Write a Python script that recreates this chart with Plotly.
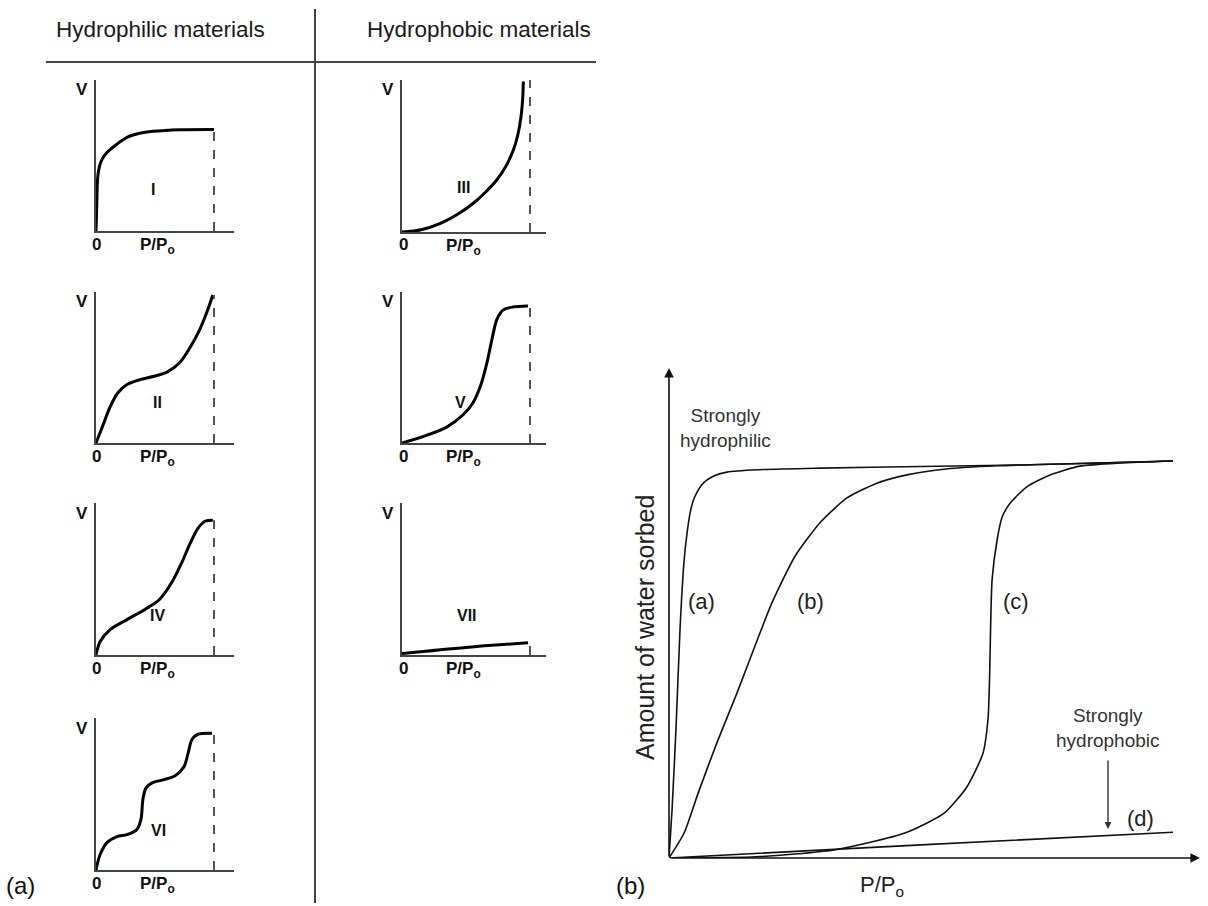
import plotly.graph_objects as go

W, H = 1208, 906

# ---------------- data: panel (a) isotherm types (x = P/Po, y = V fraction of axis height)
I_x = [0, 0.004, 0.008, 0.015, 0.03, 0.055, 0.093, 0.16, 0.263, 0.37, 0.483, 0.71, 1.0]
I_y = [0, 0.10, 0.22, 0.36, 0.43, 0.48, 0.52, 0.565, 0.62, 0.647, 0.66, 0.671, 0.673]

II_x = [0, 0.06, 0.12, 0.186, 0.263, 0.373, 0.483, 0.61, 0.71, 0.797, 0.88, 0.94, 0.99]
II_y = [0, 0.12, 0.24, 0.333, 0.387, 0.42, 0.44, 0.473, 0.533, 0.633, 0.753, 0.867, 0.98]

IV_x = [0, 0.034, 0.12, 0.263, 0.415, 0.54, 0.644, 0.73, 0.797, 0.864, 0.924, 0.99]
IV_y = [0, 0.087, 0.167, 0.233, 0.30, 0.367, 0.48, 0.613, 0.733, 0.833, 0.88, 0.887]

VI_x = [0, 0.034, 0.093, 0.178, 0.263, 0.347, 0.381, 0.398, 0.424, 0.475, 0.568, 0.67, 0.746, 0.78, 0.814, 0.864, 0.983]
VI_y = [0, 0.10, 0.18, 0.22, 0.233, 0.267, 0.333, 0.467, 0.54, 0.573, 0.593, 0.62, 0.68, 0.767, 0.86, 0.893, 0.90]

III_x = [0, 0.15, 0.30, 0.45, 0.557, 0.65, 0.74, 0.81, 0.87, 0.905, 0.93, 0.943, 0.948]
III_y = [0, 0.015, 0.057, 0.125, 0.189, 0.26, 0.342, 0.43, 0.539, 0.64, 0.76, 0.88, 0.99]

V_x = [0, 0.18, 0.352, 0.477, 0.555, 0.617, 0.664, 0.703, 0.742, 0.789, 0.86, 0.984]
V_y = [0, 0.047, 0.107, 0.187, 0.267, 0.387, 0.533, 0.687, 0.82, 0.88, 0.90, 0.907]

VII_x = [0, 0.5, 0.985]
VII_y = [0.01, 0.05, 0.08]

# dashed saturation line (P/Po = 1) heights
dash_tops = {"I": 0.673, "II": 0.98, "III": 1.0, "IV": 0.887, "V": 0.907, "VI": 0.90, "VII": 0.08}

# ---------------- data: panel (b) water sorption curves
a_x = [0, 0.006, 0.014, 0.022, 0.03, 0.036, 0.042, 0.048, 0.056, 0.065, 0.075, 0.09, 0.115, 0.175, 0.3, 0.5, 0.7, 0.85, 1.0]
a_y = [0, 0.12, 0.33, 0.58, 0.75, 0.82, 0.87, 0.90, 0.922, 0.94, 0.952, 0.963, 0.972, 0.978, 0.982, 0.986, 0.99, 0.995, 1.0]

b_x = [0, 0.030, 0.058, 0.095, 0.135, 0.173, 0.204, 0.25, 0.30, 0.353, 0.41, 0.472, 0.55, 0.65, 0.8, 1.0]
b_y = [0, 0.063, 0.164, 0.290, 0.416, 0.542, 0.642, 0.76, 0.845, 0.907, 0.943, 0.965, 0.98, 0.988, 0.993, 1.0]

c_x = [0, 0.173, 0.327, 0.468, 0.546, 0.591, 0.623, 0.633, 0.636, 0.641, 0.651, 0.661, 0.677, 0.71, 0.756, 0.815, 0.895, 1.0]
c_y = [0, 0.003, 0.02, 0.063, 0.113, 0.179, 0.264, 0.35, 0.45, 0.70, 0.801, 0.859, 0.894, 0.935, 0.965, 0.987, 0.995, 1.0]

d_x = [0, 0.5, 1.0]
d_y = [0, 0.033, 0.065]


def pxx(x):
    return x / W


def pyy(y):
    return 1 - y / H


FAM = "Liberation Sans, Arial, sans-serif"
annotations = []
shapes = []


def txt(x, y, text, size, color="#111", **kw):
    d = dict(x=pxx(x), y=pyy(y), xref="paper", yref="paper", text=text, showarrow=False,
             xanchor="center", yanchor="middle", font=dict(family=FAM, size=size, color=color))
    d.update(kw)
    annotations.append(d)


fig = go.Figure()
layout = dict(width=W, height=H, margin=dict(l=0, r=0, t=0, b=0),
              paper_bgcolor="white", plot_bgcolor="white", showlegend=False)

# small panels: (name, x, y, col-left, col-right, dashpos px, top, bottom)
small = [
    ("I", I_x, I_y, 96, 234, 214, 80, 231),
    ("II", II_x, II_y, 96, 234, 214, 292, 443),
    ("IV", IV_x, IV_y, 96, 234, 214, 503, 655),
    ("VI", VI_x, VI_y, 96, 234, 214, 718, 870),
    ("III", III_x, III_y, 402, 546, 530, 80, 232),
    ("V", V_x, V_y, 402, 546, 530, 292, 443),
    ("VII", VII_x, VII_y, 402, 546, 530, 503, 655),
]

for i, (name, xs, ys, l, r, dpx, top, bot) in enumerate(small, start=1):
    xmax = (r - l) / (dpx - l)
    layout[f"xaxis{i}"] = dict(domain=[pxx(l), pxx(r)], range=[0, xmax], anchor=f"y{i}",
                               showline=True, linecolor="#444", linewidth=2, showgrid=False,
                               zeroline=False, showticklabels=False, ticks="", fixedrange=True)
    layout[f"yaxis{i}"] = dict(domain=[pyy(bot), pyy(top)], range=[0, 1], anchor=f"x{i}",
                               showline=True, linecolor="#444", linewidth=2, showgrid=False,
                               zeroline=False, showticklabels=False, ticks="", fixedrange=True)
    fig.add_trace(go.Scatter(x=xs, y=ys, mode="lines", xaxis=f"x{i}", yaxis=f"y{i}",
                             line=dict(color="black", width=3, shape="spline", smoothing=0.9),
                             hoverinfo="skip"))
    fig.add_trace(go.Scatter(x=[1, 1], y=[0, dash_tops[name]], mode="lines", xaxis=f"x{i}", yaxis=f"y{i}",
                             line=dict(color="#555", width=2, dash="dash"), hoverinfo="skip"))
    txt(l - 14, top + 10, "<b>V</b>", 17)
    txt(l + 1, bot + 13, "<b>0</b>", 17)
    txt(l + 61, bot + 15, "<b>P/P<sub>o</sub></b>", 17)

roman_pos = {"I": (153, 190), "II": (157, 402), "IV": (157, 615), "VI": (158, 830),
             "III": (463, 188), "V": (460, 402), "VII": (467, 615)}
for k, (x, y) in roman_pos.items():
    txt(x, y, f"<b>{k}</b>", 16)

txt(161, 29, "Hydrophilic materials", 22.5, "#1a1a1a")
txt(479, 29, "Hydrophobic materials", 22.5, "#1a1a1a")
shapes.append(dict(type="line", xref="paper", yref="paper", x0=pxx(315), x1=pxx(315), y0=pyy(9), y1=pyy(903),
                   line=dict(color="#444", width=2)))
shapes.append(dict(type="line", xref="paper", yref="paper", x0=pxx(46), x1=pxx(596), y0=pyy(62), y1=pyy(62),
                   line=dict(color="#444", width=2)))

txt(20, 885, "(a)", 24)
txt(630, 885, "(b)", 24)

# ---------------- panel (b)
ox, oy, ex, ey = 669, 858, 1173, 461
xmax_b = (1200 - ox) / (ex - ox)
ymax_b = (oy - 368) / (oy - ey)
layout["xaxis8"] = dict(domain=[pxx(ox), pxx(1200)], range=[0, xmax_b], anchor="y8", visible=False, fixedrange=True)
layout["yaxis8"] = dict(domain=[pyy(oy), pyy(368)], range=[0, ymax_b], anchor="x8", visible=False, fixedrange=True)

for xs, ys in [(a_x, a_y), (b_x, b_y), (c_x, c_y), (d_x, d_y)]:
    fig.add_trace(go.Scatter(x=xs, y=ys, mode="lines", xaxis="x8", yaxis="y8",
                             line=dict(color="#111", width=1.6, shape="spline", smoothing=0.6),
                             hoverinfo="skip"))

# axes with arrows
annotations.append(dict(x=xmax_b, y=0, ax=0, ay=0, xref="x8", yref="y8", axref="x8", ayref="y8",
                        showarrow=True, arrowhead=2, arrowsize=1.2, arrowwidth=1.6, arrowcolor="#111", text=""))
annotations.append(dict(x=0, y=ymax_b, ax=0, ay=0, xref="x8", yref="y8", axref="x8", ayref="y8",
                        showarrow=True, arrowhead=2, arrowsize=1.2, arrowwidth=1.6, arrowcolor="#111", text=""))

for t, x, y in [("(a)", 701, 601), ("(b)", 810, 601), ("(c)", 1016, 601), ("(d)", 1140, 818)]:
    txt(x, y, t, 22, "#222")
txt(725, 428, "Strongly<br>hydrophilic", 19, "#333", align="center")
txt(1108, 728, "Strongly<br>hydrophobic", 19, "#333", align="center")
annotations.append(dict(x=pxx(1108), y=pyy(829), ax=0, ay=-70, xref="paper", yref="paper",
                        axref="pixel", ayref="pixel", showarrow=True, arrowhead=2, arrowsize=1,
                        arrowwidth=1.4, arrowcolor="#333", text=""))
txt(882, 886, "P/P<sub>o</sub>", 22, "#222")
txt(645, 628, "Amount of water sorbed", 25, "#222", textangle=-90)

layout["annotations"] = annotations
layout["shapes"] = shapes
fig.update_layout(**layout)
fig.write_html("out.html")
